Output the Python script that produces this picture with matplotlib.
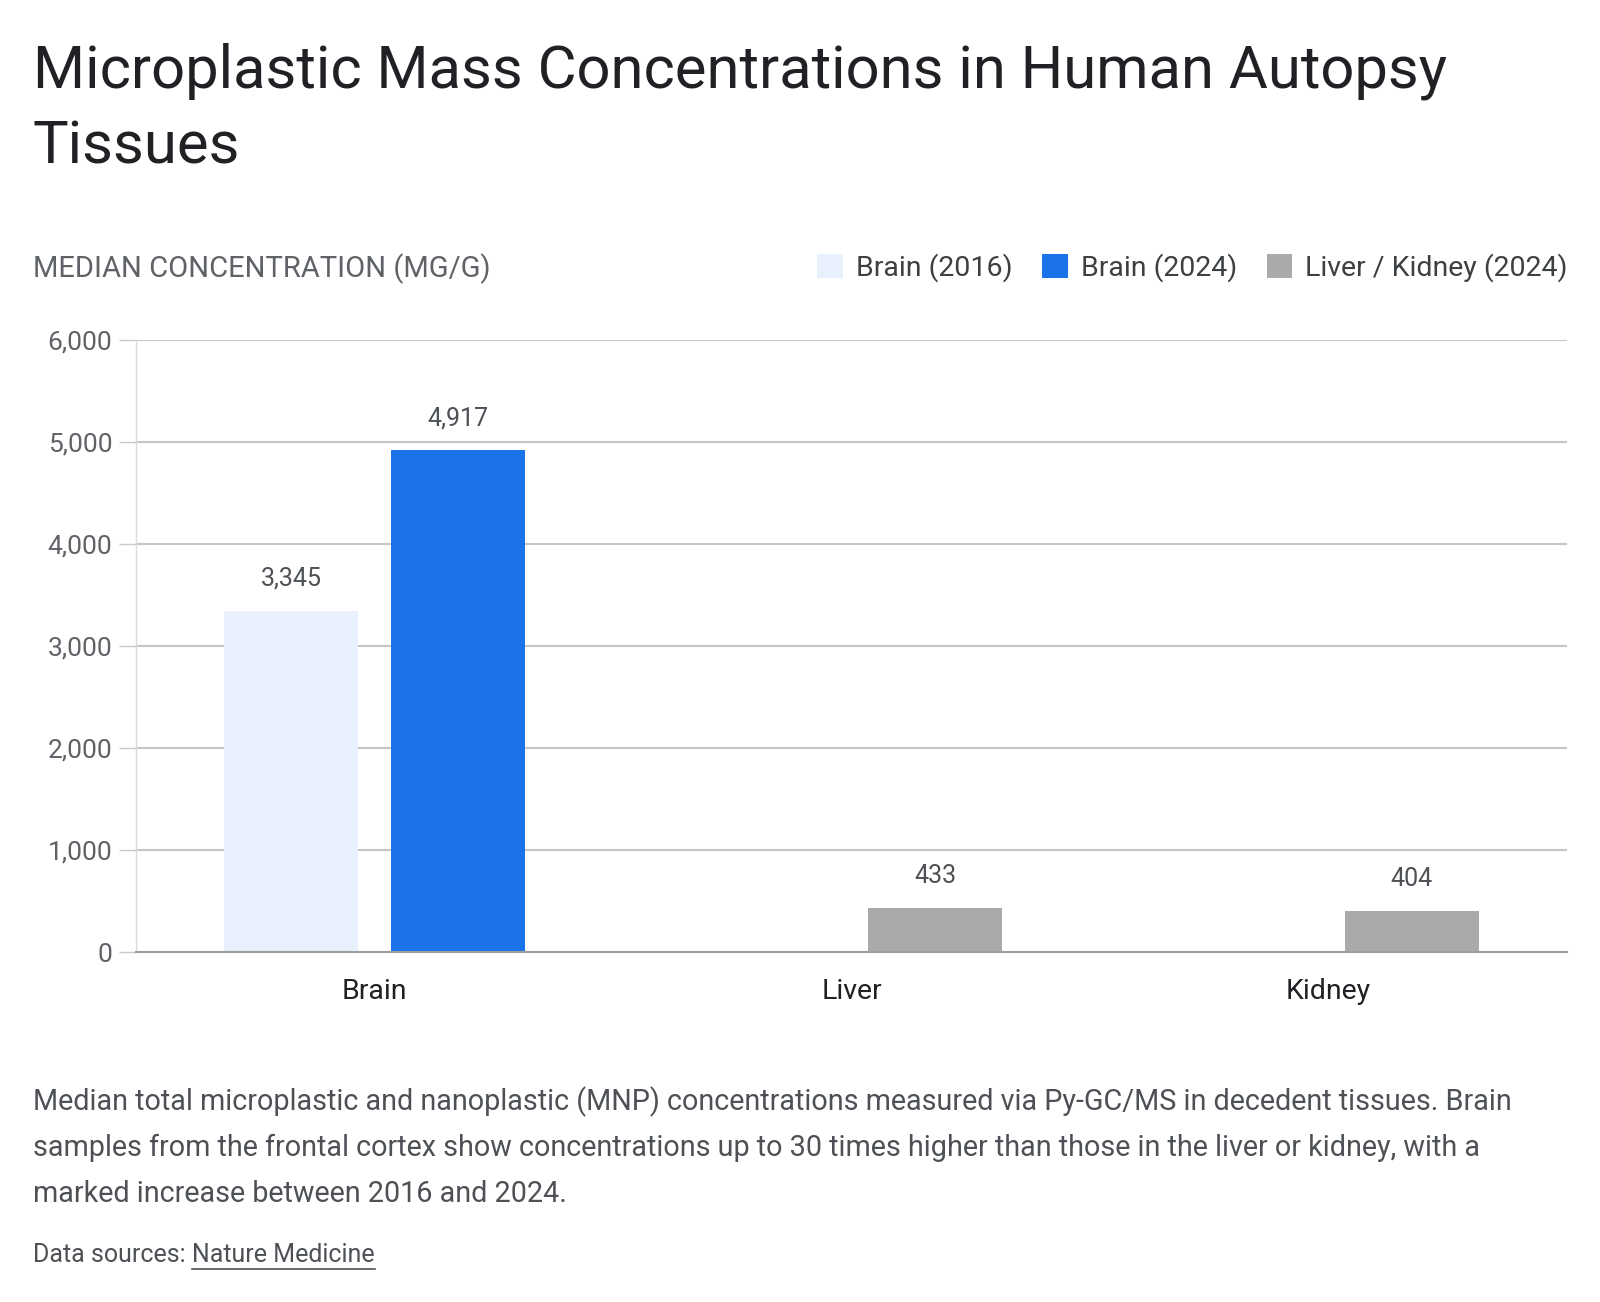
import numpy as np
import matplotlib.pyplot as plt
import matplotlib as mpl
from matplotlib.patches import Patch
from matplotlib.lines import Line2D

mpl.style.use('default')
plt.rcParams['font.family'] = ['Roboto', 'DejaVu Sans']

# data
categories = ['Brain', 'Liver', 'Kidney']
series_names = ['Brain (2016)', 'Brain (2024)', 'Liver / Kidney (2024)']
brain_2016 = [3345, np.nan, np.nan]
brain_2024 = [4917, np.nan, np.nan]
organ_2024 = [np.nan, 433, 404]
series_vals = [brain_2016, brain_2024, organ_2024]
series_colors = ['#e8f0fe', '#1a73e8', '#aaaaaa']
series_offsets = [-0.175, 0.175, 0.175]
yticks = [0, 1000, 2000, 3000, 4000, 5000, 6000]

W, H = 1600, 1302
fig = plt.figure(figsize=(W / 100, H / 100), dpi=100)
ax = fig.add_axes([136 / W, 1 - 952 / H, (1567 - 136) / W, (952 - 340) / H])

x = np.arange(len(categories))
bw = 0.28
for vals, col, off in zip(series_vals, series_colors, series_offsets):
    v = np.array(vals, dtype=float)
    ax.bar(x + off, v, width=bw, color=col, zorder=3)
    for xi, vi in zip(x + off, v):
        if np.isnan(vi):
            continue
        ax.annotate(f'{int(vi):,}', (xi, vi), xytext=(0, 25), textcoords='offset pixels',
                    ha='center', va='baseline', fontsize=18, color='#4d5156')

ax.set_xlim(-0.5, 2.5)
ax.set_ylim(0, 6000)
ax.set_yticks(yticks)
ax.set_yticklabels([f'{t:,}' for t in yticks], fontsize=19, color='#5f6368')
ax.set_xticks(x)
ax.set_xticklabels(categories, fontsize=20.5, color='#202124')
ax.tick_params(axis='y', length=12, width=1, color='#c8c8c8', pad=5)
ax.tick_params(axis='x', length=0, pad=19)
ax.grid(axis='y', color='#c6c6c6', linewidth=1.5, zorder=0)
for s in ['top', 'right']:
    ax.spines[s].set_visible(False)
ax.spines['left'].set_color('#dadada')
ax.spines['left'].set_linewidth(1)
ax.spines['bottom'].set_color('#9e9e9e')
ax.spines['bottom'].set_linewidth(1.5)
ax.spines['bottom'].set_zorder(4)

# title and labels
title_lines = ['Microplastic Mass Concentrations in Human Autopsy', 'Tissues']
for i, line in enumerate(title_lines):
    fig.text(33 / W, 1 - (88 + 75 * i) / H, line, fontsize=43, color='#202124',
             ha='left', va='baseline')
fig.text(33 / W, 1 - 277 / H, 'MEDIAN CONCENTRATION (MG/G)', fontsize=21,
         color='#5f6368', ha='left', va='baseline')

handles = [Patch(facecolor=c, edgecolor='none') for c in series_colors]
leg = fig.legend(handles, series_names, ncol=3, loc='center right',
                 bbox_to_anchor=(1579 / W, 1 - 268 / H), frameon=False,
                 fontsize=20.5, handlelength=0.9, handleheight=0.9,
                 handletextpad=0.45, columnspacing=1.05, borderaxespad=0)
for t in leg.get_texts():
    t.set_color('#3c4043')

caption_lines = [
    'Median total microplastic and nanoplastic (MNP) concentrations measured via Py-GC/MS in decedent tissues. Brain',
    'samples from the frontal cortex show concentrations up to 30 times higher than those in the liver or kidney, with a',
    'marked increase between 2016 and 2024.',
]
for i, line in enumerate(caption_lines):
    fig.text(33 / W, 1 - (1110 + 46 * i) / H, line, fontsize=20.7, color='#4d5156',
             ha='left', va='baseline')

src = fig.text(33 / W, 1 - 1262 / H, 'Data sources: ', fontsize=18, color='#4d5156',
               ha='left', va='baseline')
fig.canvas.draw()
r = fig.canvas.get_renderer()
bb = src.get_window_extent(r)
link = fig.text(bb.x1 / W, 1 - 1262 / H, 'Nature Medicine', fontsize=18,
                color='#4d5156', ha='left', va='baseline')
fig.canvas.draw()
lb = link.get_window_extent(r)
uy = (1302 - 1269) / H
fig.add_artist(Line2D([lb.x0 / W, lb.x1 / W], [uy, uy], color='#4d5156', linewidth=1.2))

fig.savefig('out.png', dpi=100)
